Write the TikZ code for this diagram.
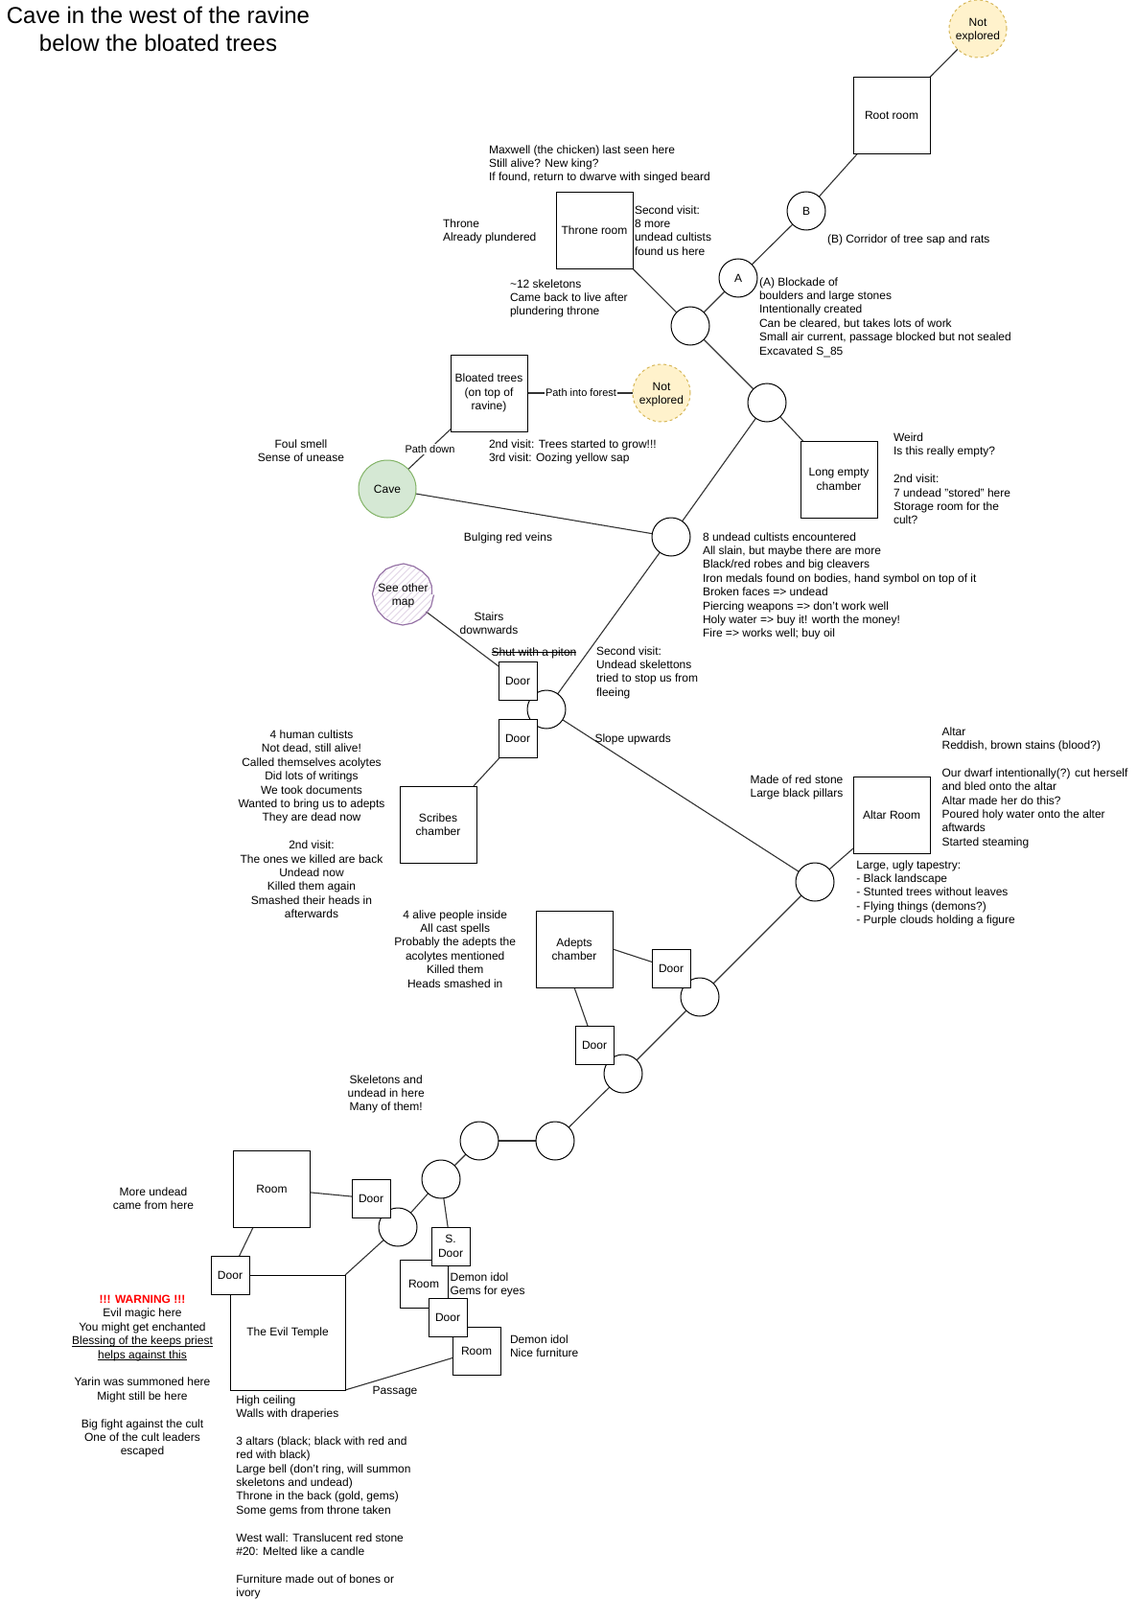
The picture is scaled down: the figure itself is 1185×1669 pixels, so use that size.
\documentclass[tikz,border=0pt]{standalone}
\usepackage{fontspec}
\setmainfont{Liberation Sans}
\usetikzlibrary{decorations.pathmorphing,calc}
\pgfdeclarelayer{edges}
\pgfsetlayers{edges,main}
\newsavebox{\strikebox}
\newcommand{\strikeout}[1]{\sbox{\strikebox}{#1}\usebox{\strikebox}\llap{\rule[3.6pt]{\wd\strikebox}{0.9pt}}}
\newcommand{\underscored}[1]{\sbox{\strikebox}{#1}\usebox{\strikebox}\llap{\rule[-1.8pt]{\wd\strikebox}{0.9pt}}}
\newcommand{\lowfirst}{\rule{0pt}{12pt}}
\definecolor{hatch}{HTML}{E1D5E7}
\definecolor{hatchline}{HTML}{9673A6}
\definecolor{yelfill}{HTML}{FFF2CC}
\definecolor{yelline}{HTML}{D6B656}
\definecolor{grnfill}{HTML}{D5E8D4}
\definecolor{grnline}{HTML}{82B366}
\definecolor{edgecol}{HTML}{333333}
\tikzset{
  base12/.style={font=\fontsize{12}{14.4}\selectfont,inner sep=0pt,outer sep=0pt},
  box/.style={base12,draw=black,fill=white,line width=1pt,align=center},
  room/.style={box,minimum size=80pt},
  door/.style={box,minimum size=40pt},
  smallroom/.style={box,minimum size=50pt},
  temple/.style={box,minimum size=120pt},
  junction/.style={box,circle,minimum size=40pt},
  unexplored/.style={base12,circle,minimum size=60pt,align=center,draw=yelline,fill=yelfill,dashed,line width=1pt},
  start/.style={base12,circle,minimum size=60pt,align=center,draw=grnline,fill=grnfill,line width=1pt},
  noteleft/.style={base12,anchor=north west,align=left},
  notemid/.style={base12,anchor=north,align=center},
  label/.style={base12,font=\fontsize{11}{13.2}\selectfont,fill=white,inner sep=1pt},
  link/.style={draw=edgecol,line width=1.1pt},
}
\begin{document}
\begin{tikzpicture}[x=1pt,y=-1pt]
\useasboundingbox (0,0) rectangle (1185,1669);
\begin{pgfonlayer}{edges}
\fill[white] (0,0) rectangle (1185,1669);
\end{pgfonlayer}

% title
\node[base12,anchor=north,align=center,font=\fontsize{24}{28.8}\selectfont] (title) at (165,7.5)
  {Cave in the west of the ravine\\below the bloated trees};

% nodes: rooms and junctions
\node[unexplored] (ne1) at (1020,30) {\lowfirst Not\\explored};
\node[room] (root) at (930,120.5) {Root room};
\node[junction] (b) at (841,220) {B};
\node[room] (throne) at (620,240.5) {Throne room};
\node[junction] (a) at (770,290) {A};
\node[junction] (j1) at (720,340) {};
\node[junction] (j2) at (800,420) {};
\node[room] (long) at (875,500) {Long empty\\chamber};
\node[room] (bloated) at (510,410) {Bloated trees\\(on top of\\ravine)};
\node[unexplored] (ne2) at (690,410) {\lowfirst Not\\explored};
\node[start] (cave) at (404,510) {Cave};
\node[junction] (j3) at (700,560) {};
\node[base12,circle,minimum size=60pt,align=center,
      path picture={\foreach \k in {-20,...,20}{\draw[hatch,line width=1pt] ($(path picture bounding box.center)+(\k*7-60,60)$) -- ++(120,-120);}}] (other) at (420.5,620) {};
\draw[hatchline,line width=1.2pt,decorate,decoration={random steps,segment length=9pt,amplitude=0.5pt}] (other.center) circle (30pt);
\node[base12,align=center] (othertext) at (420.5,621.5) {See other\\map};
\node[junction] (j4) at (570,740) {};
\node[door] (d1) at (540,710) {Door};
\node[door] (d2) at (540,770) {Door};
\node[room] (scribes) at (457,860) {Scribes\\chamber};
\node[room] (altar) at (930,850) {Altar Room};
\node[junction] (j5) at (850,920) {};
\node[room] (adepts) at (599,990) {Adepts\\chamber};
\node[junction] (j6) at (730,1040) {};
\node[door] (d3) at (700,1010) {Door};
\node[junction] (j7) at (650,1120) {};
\node[door] (d4) at (620,1090) {Door};
\node[junction] (j8) at (579,1190) {};
\node[junction] (j9) at (500,1190) {};
\node[junction] (j10) at (460,1230) {};
\node[junction] (j11) at (415,1280) {};
\node[room] (room1) at (283.5,1240) {Room};
\node[door] (d5) at (387,1250) {Door};
\node[temple] (evil) at (300,1390) {The Evil Temple};
\node[door] (d6) at (240,1330) {Door};
\node[smallroom] (room2) at (442,1339) {Room};
\node[door] (sd) at (470,1300) {S.\\Door};
\node[smallroom] (room3) at (497,1409) {Room};
\node[door] (d7) at (467,1374) {Door};

% connectors
\begin{pgfonlayer}{edges}
\draw[link] (root.north east) -- (ne1);
\draw[link] (root) -- (b);
\draw[link] (b) -- (a);
\draw[link] (a) -- (j1);
\draw[link] (throne) -- (j1);
\draw[link] (j1) -- (j2);
\draw[link] (j2) -- (long);
\draw[link] (j2) -- (j3);
\draw[link] (cave) -- (j3);
\draw[link] (bloated) -- (cave);
\draw[link] (bloated) -- (ne2);
\draw[link] (j3) -- (j4);
\draw[link] (other) -- (d1);
\draw[link] (j4) -- (j5);
\draw[link] (d2) -- (scribes);
\draw[link] (altar) -- (j5);
\draw[link] (j5) -- (j6);
\draw[link] (adepts.east) -- (d3);
\draw[link] (adepts.south) -- (d4);
\draw[link] (j6) -- (j7);
\draw[link] (j7) -- (j8);
\draw[link] (j8) -- (j9);
\draw[link] (j9) -- (j10);
\draw[link] (j10) -- (j11);
\draw[link] (room1) -- (d5);
\draw[link] (room1) -- (d6);
\draw[link] (j11) -- (evil.north east);
\draw[link] (j10) -- (sd);
\draw[link] (evil.south east) -- (room3);
\end{pgfonlayer}

% connector labels
\node[label] (lpath) at (448.5,468.5) {Path down};
\node[label] (lforest) at (606,409.5) {Path into forest};

% notes
\node[noteleft] (n1) at (510,150) {\strut Maxwell (the chicken) last seen here\\Still alive? New king?\\If found, return to dwarve with singed beard};
\node[noteleft] (n2) at (462,227) {\strut Throne\\Already plundered};
\node[noteleft] (n3) at (662,213) {\strut Second visit:\\8 more\\undead cultists\\found us here};
\node[noteleft] (n4) at (863,243.5) {\strut (B) Corridor of tree sap and rats};
\node[noteleft] (n5) at (532,290) {\strut \textasciitilde12 skeletons\\Came back to live after\\plundering throne};
\node[noteleft] (n6) at (792,288) {\strut (A) Blockade of\\boulders and large stones\\Intentionally created\\Can be cleared, but takes lots of work\\Small air current, passage blocked but not sealed\\Excavated S\_85};
\node[notemid] (n7) at (314,457) {\strut Foul smell\\Sense of unease};
\node[noteleft] (n8) at (510,457) {\strut 2nd visit: Trees started to grow!!!\\3rd visit: Oozing yellow sap};
\node[noteleft] (n9) at (932,450.5) {\strut Weird\\Is this really empty?\\[14.4pt]2nd visit:\\7 undead "stored" here\\Storage room for the\\cult?};
\node[notemid] (n10) at (530,554) {\strut Bulging red veins};
\node[noteleft] (n11) at (733,554) {\strut 8 undead cultists encountered\\All slain, but maybe there are more\\Black/red robes and big cleavers\\Iron medals found on bodies, hand symbol on top of it\\Broken faces => undead\\Piercing weapons => don't work well\\Holy water => buy it! worth the money!\\Fire => works well; buy oil};
\node[notemid] (n12) at (510,637) {\strut Stairs\\downwards};
\node[notemid] (n13) at (557,674) {\strut\strikeout{Shut with a piton}};
\node[noteleft] (n14) at (622,673) {\strut Second visit:\\Undead skelettons\\tried to stop us from\\fleeing};
\node[noteleft] (n15) at (620.5,764) {\strut Slope upwards};
\node[notemid] (n16) at (325,760.5) {\strut 4 human cultists\\Not dead, still alive!\\Called themselves acolytes\\Did lots of writings\\We took documents\\Wanted to bring us to adepts\\They are dead now\\[14.4pt]2nd visit:\\The ones we killed are back\\Undead now\\Killed them again\\Smashed their heads in\\afterwards};
\node[notemid] (n17) at (831,807) {\strut Made of red stone\\Large black pillars};
\node[noteleft] (n18) at (982.6,757) {\strut Altar\\Reddish, brown stains (blood?)\\[14.4pt]Our dwarf intentionally(?) cut herself\\and bled onto the altar\\Altar made her do this?\\Poured holy water onto the alter\\aftwards\\Started steaming};
\node[noteleft] (n19) at (893.4,896) {\strut Large, ugly tapestry:\\- Black landscape\\- Stunted trees without leaves\\- Flying things (demons?)\\- Purple clouds holding a figure};
\node[notemid] (n20) at (474.7,948) {\strut 4 alive people inside\\All cast spells\\Probably the adepts the\\acolytes mentioned\\Killed them\\Heads smashed in};
\node[notemid] (n21) at (402.7,1120) {\strut Skeletons and\\undead in here\\Many of them!};
\node[notemid] (n22) at (160,1237.5) {\strut More undead\\came from here};
\node[notemid] (n23) at (148.5,1349.5) {\strut\textcolor{red}{\textbf{!!! WARNING !!!}}\\Evil magic here\\You might get enchanted\\\underscored{Blessing of the keeps priest}\\\underscored{helps against this}\\[14.4pt]Yarin was summoned here\\Might still be here\\[14.4pt]Big fight against the cult\\One of the cult leaders\\escaped};
\node[noteleft] (n24) at (469.6,1326) {\strut Demon idol\\Gems for eyes};
\node[noteleft] (n25) at (532,1391.5) {\strut Demon idol\\Nice furniture};
\node[notemid] (n26) at (412,1444) {\strut Passage};
\node[noteleft] (n27) at (246.4,1454) {\strut High ceiling\\Walls with draperies\\[14.4pt]3 altars (black; black with red and\\red with black)\\Large bell (don't ring, will summon\\skeletons and undead)\\Throne in the back (gold, gems)\\Some gems from throne taken\\[14.4pt]West wall: Translucent red stone\\\#20: Melted like a candle\\[14.4pt]Furniture made out of bones or\\ivory};
\end{tikzpicture}
\end{document}
